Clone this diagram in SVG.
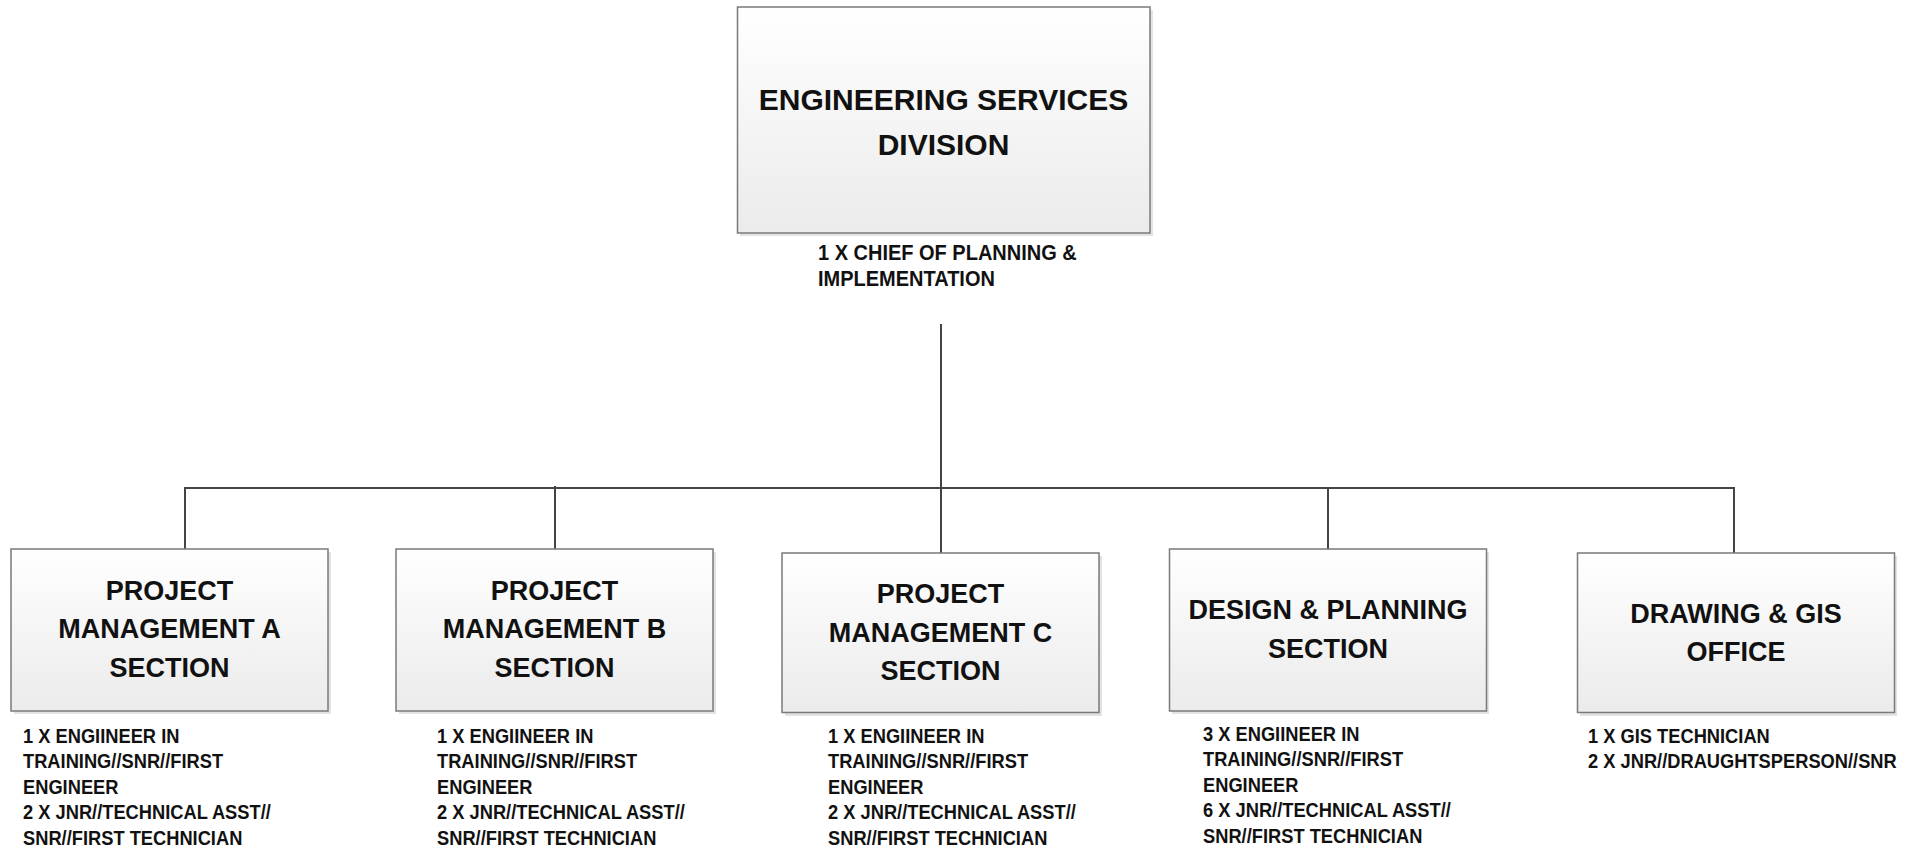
<svg xmlns="http://www.w3.org/2000/svg" width="1917" height="851" viewBox="0 0 1917 851">
<defs>
<linearGradient id="g" x1="0" y1="0" x2="0" y2="1">
<stop offset="0" stop-color="#ffffff"/>
<stop offset="1" stop-color="#ebebeb"/>
</linearGradient>
<style>
.box{fill:url(#g);stroke:#7a7a7a;stroke-width:1.5}
.sh{fill:#e3e3e3}
.t{font-family:"Liberation Sans",Arial,sans-serif;font-weight:bold;fill:#111;text-anchor:middle}
.big{font-size:30px}
.mid{font-size:27px}
.s{font-family:"Liberation Sans",Arial,sans-serif;font-weight:bold;fill:#111;font-size:18.3px}
.c{fill:none;stroke:#444444;stroke-width:2}
</style>
</defs>
<rect width="1917" height="851" fill="#ffffff"/>
<g id="connectors">
<line class="c" x1="941" y1="324" x2="941" y2="553"/>
<polyline class="c" points="185,549 185,488 1734,488 1734,553"/>
<line class="c" x1="555" y1="486" x2="555" y2="549"/>
<line class="c" x1="1328" y1="488" x2="1328" y2="549"/>
</g>
<g id="node-top">
<rect class="sh" x="740" y="10" width="413" height="226"/>
<rect class="box" x="737.5" y="7" width="412.5" height="226"/>
<text class="t big" x="943.5" y="110">ENGINEERING SERVICES</text>
<text class="t big" x="943.5" y="155">DIVISION</text>
<g transform="translate(818 259.5) scale(1 1.12)">
<text class="s" style="font-size:20px"><tspan x="0" y="0">1 X CHIEF OF PLANNING &amp;</tspan><tspan x="0" y="23.7">IMPLEMENTATION</tspan></text>
</g>
</g>
<g id="node-a">
<rect class="sh" x="14" y="552" width="317" height="162"/>
<rect class="box" x="11" y="549" width="317" height="162"/>
<text class="t mid" x="169.5" y="600">PROJECT</text>
<text class="t mid" x="169.5" y="638">MANAGEMENT A</text>
<text class="t mid" x="169.5" y="677">SECTION</text>
<g transform="translate(23 743) scale(1 1.12)">
<text class="s"><tspan x="0" y="0">1 X ENGIINEER IN</tspan><tspan x="0" y="22.77">TRAINING//SNR//FIRST</tspan><tspan x="0" y="45.54">ENGINEER</tspan><tspan x="0" y="68.3">2 X JNR//TECHNICAL ASST//</tspan><tspan x="0" y="91.07">SNR//FIRST TECHNICIAN</tspan></text>
</g>
</g>
<g id="node-b">
<rect class="sh" x="399" y="552" width="317" height="162"/>
<rect class="box" x="396" y="549" width="317" height="162"/>
<text class="t mid" x="554.5" y="600">PROJECT</text>
<text class="t mid" x="554.5" y="638">MANAGEMENT B</text>
<text class="t mid" x="554.5" y="677">SECTION</text>
<g transform="translate(437 743) scale(1 1.12)">
<text class="s"><tspan x="0" y="0">1 X ENGIINEER IN</tspan><tspan x="0" y="22.77">TRAINING//SNR//FIRST</tspan><tspan x="0" y="45.54">ENGINEER</tspan><tspan x="0" y="68.3">2 X JNR//TECHNICAL ASST//</tspan><tspan x="0" y="91.07">SNR//FIRST TECHNICIAN</tspan></text>
</g>
</g>
<g id="node-c">
<rect class="sh" x="785" y="556" width="317" height="160"/>
<rect class="box" x="782" y="553" width="317" height="159.5"/>
<text class="t mid" x="940.5" y="603">PROJECT</text>
<text class="t mid" x="940.5" y="641.5">MANAGEMENT C</text>
<text class="t mid" x="940.5" y="680">SECTION</text>
<g transform="translate(828 743) scale(1 1.12)">
<text class="s"><tspan x="0" y="0">1 X ENGIINEER IN</tspan><tspan x="0" y="22.77">TRAINING//SNR//FIRST</tspan><tspan x="0" y="45.54">ENGINEER</tspan><tspan x="0" y="68.3">2 X JNR//TECHNICAL ASST//</tspan><tspan x="0" y="91.07">SNR//FIRST TECHNICIAN</tspan></text>
</g>
</g>
<g id="node-d">
<rect class="sh" x="1172" y="552" width="317" height="162"/>
<rect class="box" x="1169.5" y="549" width="317" height="162"/>
<text class="t mid" x="1328" y="619">DESIGN &amp; PLANNING</text>
<text class="t mid" x="1328" y="658">SECTION</text>
<g transform="translate(1203 741) scale(1 1.12)">
<text class="s"><tspan x="0" y="0">3 X ENGIINEER IN</tspan><tspan x="0" y="22.77">TRAINING//SNR//FIRST</tspan><tspan x="0" y="45.54">ENGINEER</tspan><tspan x="0" y="68.3">6 X JNR//TECHNICAL ASST//</tspan><tspan x="0" y="91.07">SNR//FIRST TECHNICIAN</tspan></text>
</g>
</g>
<g id="node-e">
<rect class="sh" x="1580" y="556" width="317" height="160"/>
<rect class="box" x="1577.5" y="553" width="317" height="159.5"/>
<text class="t mid" x="1736" y="622.5">DRAWING &amp; GIS</text>
<text class="t mid" x="1736" y="661">OFFICE</text>
<g transform="translate(1588 743) scale(1 1.12)">
<text class="s"><tspan x="0" y="0">1 X GIS TECHNICIAN</tspan><tspan x="0" y="22.32">2 X JNR//DRAUGHTSPERSON//SNR</tspan></text>
</g>
</g>
</svg>
